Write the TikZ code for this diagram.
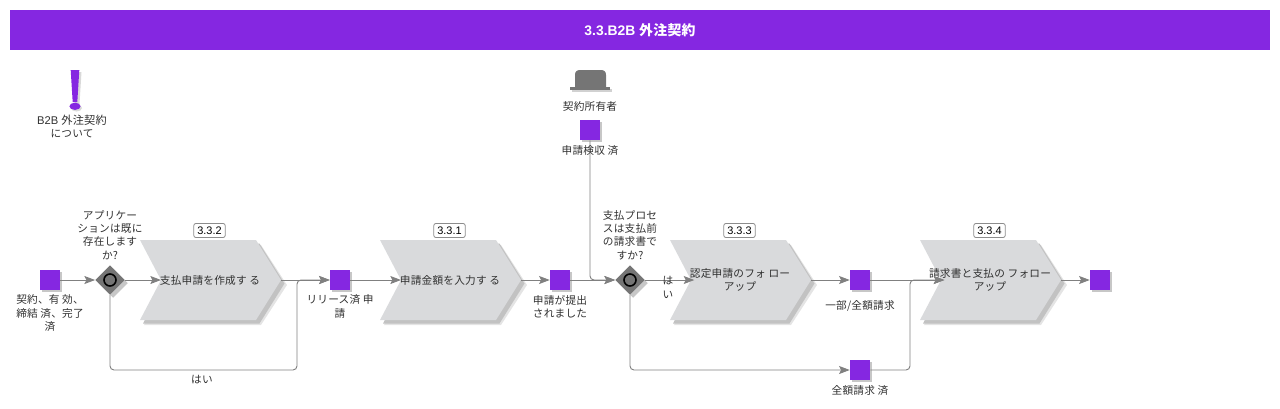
\documentclass[tikz,border=0pt]{standalone}
\usepackage{fontspec}
\setmainfont{Liberation Sans}
\newfontfamily\cjk[LetterSpace=2]{Noto Sans CJK JP}
\usetikzlibrary{arrows.meta,shapes.geometric,shadows}
\definecolor{brand}{HTML}{8527E1}
\definecolor{conn}{HTML}{808080}
\definecolor{chevfill}{HTML}{D9DADC}
\definecolor{chevshadow}{HTML}{C2C2C2}
\definecolor{chevshadowb}{HTML}{E4E4E4}
\definecolor{txt}{HTML}{303030}
\definecolor{gate}{HTML}{757575}
\tikzset{
  lbl/.style={font=\cjk\fontsize{8pt}{10pt}\selectfont,text=txt,align=center,inner sep=0pt},
  badge/.style={draw=black!45,fill=white,line width=.6pt,rounded corners=1.5pt,font=\fontsize{8.2pt}{9pt}\selectfont,text=black,minimum width=23.5pt,minimum height=10.5pt,inner sep=0pt},
  evt/.style={rectangle,fill=brand,minimum size=15pt,inner sep=0pt,drop shadow={shadow xshift=1.6pt,shadow yshift=-1.6pt,fill=black,opacity=.22}},
  gatew/.style={diamond,fill=gate,minimum width=22pt,minimum height=22pt,inner sep=0pt,drop shadow={shadow xshift=2.4pt,shadow yshift=-2.4pt,fill=black,opacity=.22}},
  ring/.style={circle,draw=black,line width=1.2pt,fill=gate,minimum size=9pt,inner sep=0pt},
  flow/.style={draw=conn,line width=.7pt,rounded corners=3pt,-{Stealth[length=8pt,width=6pt,inset=1.5pt,fill=conn]}},
}
% \chev{name}{left x}{text}{badge text}
\newcommand{\chev}[4]{%
  \fill[chevshadowb] (#2+4,245) -- (#2+121,245) -- (#2+147,285) -- (#2+121,325) -- (#2+4,325) -- (#2+25,285) -- cycle;
  \fill[chevshadow] (#2+3,243.5) -- (#2+119.5,243.5) -- (#2+144.5,283.5) -- (#2+119.5,323.5) -- (#2+3,323.5) -- (#2+24,283.5) -- cycle;
  \fill[chevfill] (#2,240) -- (#2+116,240) -- (#2+141,280) -- (#2+116,320) -- (#2,320) -- (#2+21,280) -- cycle;
  \coordinate (#1in) at (#2+21,280);
  \coordinate (#1tip) at (#2+141,280);
  \node[lbl] (#1t) at (#2+70,280) {#3};
  \node[badge] (#1b) at (#2+69.5,230.5) {#4};
}
\begin{document}
\begin{tikzpicture}[x=.75pt,y=-.75pt]
\useasboundingbox (0,0) rectangle (1280,408);
% header
\node[fill=brand,minimum width=945pt,minimum height=30pt,inner sep=0pt] (header) at (640,30) {};
\node[text=white,font=\bfseries\fontsize{10.4pt}{11pt}\selectfont,inner sep=0pt] (title) at (640,30) {3.3.B2B {\cjk 外注契約}};
% exclamation icon
\fill[black,opacity=.15] (73,72) -- (81.5,72) -- (79.5,104) -- (75,104) -- cycle;
\fill[black,opacity=.15] (76.5,108) ellipse [x radius=5.5,y radius=3.5];
\fill[brand] (70.7,70) -- (79.3,70) -- (77.3,102) -- (72.7,102) -- cycle;
\fill[brand] (75,106.3) ellipse [x radius=5.6,y radius=3.6];
\node[lbl] (about) at (72,126.5) {\fontsize{8.4pt}{10pt}\selectfont\rmfamily B2B {\cjk 外注契約}\\{\cjk について}};
% hat icon
\fill[black,opacity=.18] (572,89) rectangle (612,92);
\fill[gate] (575,87) -- (575,75) .. controls (575,71) and (577,70) .. (581,70) -- (600,70) .. controls (604,70) and (606,71) .. (606,75) -- (606,87) -- cycle;
\fill[gate] (570,87) rectangle (610,90);
\node[lbl] (owner) at (590,106) {契約所有者};
% chevrons
\chev{c1}{140}{支払申請を作成す る}{3.3.2}
\chev{c2}{380}{申請金額を入力す る}{3.3.1}
\chev{c3}{670}{認定申請のフォ ロー\\アップ}{3.3.3}
\chev{c4}{920}{請求書と支払の フォロー\\アップ}{3.3.4}
% events
\node[evt] (s1) at (50,280) {};
\node[evt] (s2) at (340,280) {};
\node[evt] (s3) at (560,280) {};
\node[evt] (s4) at (590,130) {};
\node[evt] (s5) at (860,280) {};
\node[evt] (s6) at (1100,280) {};
\node[evt] (s7) at (860,370) {};
% gateways
\node[gatew] (g1) at (110,280) {};
\node[gatew] (g2) at (630,280) {};
% connector bends
\coordinate (j1) at (297,370);
\coordinate (j2) at (910,370);
% connectors
\draw[flow] (s1.east) -- (g1.west);
\draw[flow] (g1.east) -- (c1in);
\draw[flow] (c1tip) -- (s2.west);
\draw[flow] (g1.south) |- (j1) -- (j1 |- s2.west) -- (s2.west);
\draw[flow] (s2.east) -- (c2in);
\draw[flow] (c2tip) -- (s3.west);
\draw[flow] (s3.east) -- (g2.west);
\draw[flow] (s4.south) -- (s4.south |- g2.west) -- (g2.west);
\draw[flow] (g2.east) -- ([xshift=2.5pt]c3in);
\draw[flow] (c3tip) -- (s5.west);
\draw[flow] (s5.east) -- ([xshift=2.5pt]c4in);
\draw[flow] (g2.south) |- (s7.west);
\draw[flow] (s7.east) -- (j2) -- (j2 |- s5.east) -- ([xshift=2.5pt]c4in);
\draw[flow] (c4tip) -- (s6.west);
% gateway rings
\node[ring] (r1) at (g1) {};
\node[ring] (r2) at (g2) {};
% labels
\node[lbl] (q1) at (110,235) {アプリケー\\ションは既に\\存在します\\か?};
\node[lbl] (l1) at (50,313) {契約、有 効、\\締結 済、完了\\済};
\node[lbl] (yes1) at (202,380) {はい};
\node[lbl] (l2) at (340,306.5) {リリース済 申\\請};
\node[lbl] (l3) at (560,306.5) {申請が提出\\されました};
\node[lbl] (l4) at (590,150) {申請検収 済};
\node[lbl] (q2) at (630,235) {支払プロセ\\スは支払前\\の請求書で\\すか?};
\node[lbl] (yes2) at (668,287.5) {は\\い};
\node[lbl] (l5) at (860,306) {一部/全額請求};
\node[lbl] (l7) at (860,390) {全額請求 済};
\end{tikzpicture}
\end{document}
